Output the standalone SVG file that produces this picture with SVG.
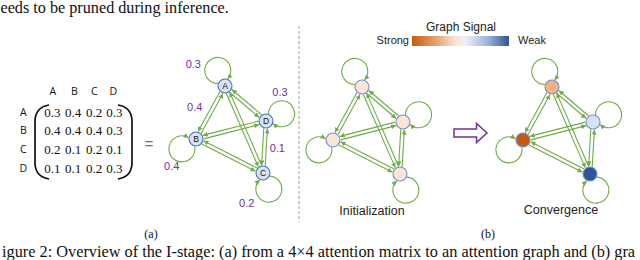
<svg xmlns="http://www.w3.org/2000/svg" xmlns:xlink="http://www.w3.org/1999/xlink" width="640" height="260" viewBox="0 0 640 260">
<style>
.serif{font-family:"Liberation Serif","Times New Roman",serif;fill:#111}
.sans{font-family:"Liberation Sans",Arial,sans-serif;fill:#222}
.os{font-family:"Open Sans","Liberation Sans",sans-serif;fill:#111}
.val{font-family:"Liberation Sans",Arial,sans-serif;fill:#7030a0;font-size:11px;text-anchor:middle}
.e{fill:none;stroke:#70ad47;stroke-width:1.1;marker-end:url(#ah)}
.na{fill:#dae3f3;stroke:#4472c4;stroke-width:1.1}
.nb{stroke:#6f8fce;stroke-width:1.1}
.nl{font-family:"Liberation Sans",Arial,sans-serif;font-size:8.5px;fill:#111;text-anchor:middle}
.br{fill:none;stroke:#111;stroke-width:1.7}
</style>
<defs>
<marker id="ah" viewBox="0 0 6 6" refX="6" refY="3" markerWidth="5" markerHeight="5" orient="auto" markerUnits="userSpaceOnUse">
<path d="M0,0 L6,3 L0,6 z" fill="#70ad47"/>
</marker>
<linearGradient id="sig" x1="0" y1="0" x2="1" y2="0">
<stop offset="0" stop-color="#c55a11"/>
<stop offset="0.22" stop-color="#e49a66"/>
<stop offset="0.45" stop-color="#f8e4d6"/>
<stop offset="0.55" stop-color="#eef0f7"/>
<stop offset="0.78" stop-color="#9fb2da"/>
<stop offset="1" stop-color="#2f5597"/>
</linearGradient>
</defs>
<rect width="640" height="260" fill="#fff"/>

<text class="serif" x="0.5" y="13" font-size="16.2">eeds to be pruned during inference.</text>

<g id="matrix">
<g class="os" font-size="10.5" text-anchor="middle">
<text x="52.7" y="94.5">A</text><text x="74.5" y="94.5">B</text><text x="94.3" y="94.5">C</text><text x="113.3" y="94.5">D</text>
<text x="23.3" y="115.5">A</text><text x="23.3" y="134">B</text><text x="23.3" y="153">C</text><text x="23.3" y="171.5">D</text>
</g>
<path class="br" d="M49,105 Q36,107 35,120 L35,164 Q36,177 49,179"/>
<path class="br" d="M118,105 Q131,107 132,120 L132,164 Q131,177 118,179"/>
<g class="serif" font-size="13" text-anchor="middle">
<text y="116.5"><tspan x="52.3">0.3</tspan><tspan x="73">0.4</tspan><tspan x="94">0.2</tspan><tspan x="114.3">0.3</tspan></text>
<text y="135.2"><tspan x="52.3">0.4</tspan><tspan x="73">0.4</tspan><tspan x="94">0.4</tspan><tspan x="114.3">0.3</tspan></text>
<text y="153.9"><tspan x="52.3">0.2</tspan><tspan x="73">0.1</tspan><tspan x="94">0.2</tspan><tspan x="114.3">0.1</tspan></text>
<text y="172.6"><tspan x="52.3">0.1</tspan><tspan x="73">0.1</tspan><tspan x="94">0.2</tspan><tspan x="114.3">0.3</tspan></text>
</g>
</g>

<text x="149" y="149" font-family="Liberation Sans,Arial,sans-serif" font-size="15" fill="#4472c4" text-anchor="middle">=</text>

<g id="connectors">
<g id="edges-a">
<path class="e" d="M219.82,91.72 L198.02,131.56"/>
<path class="e" d="M201.18,133.29 L222.98,93.44"/>
<path class="e" d="M229.54,92.24 L259.13,117.50"/>
<path class="e" d="M261.47,114.76 L231.87,89.50"/>
<path class="e" d="M226.35,93.59 L258.35,166.85"/>
<path class="e" d="M261.65,165.41 L229.65,92.15"/>
<path class="e" d="M203.71,138.88 L259.18,124.61"/>
<path class="e" d="M258.29,121.13 L202.82,135.39"/>
<path class="e" d="M201.87,144.00 L255.50,171.21"/>
<path class="e" d="M257.13,168.00 L203.50,140.79"/>
<path class="e" d="M263.77,128.38 L261.64,165.41"/>
<path class="e" d="M265.23,165.62 L267.37,128.59"/>
<path class="e" d="M217.95,83.43 A13,13 0 1 1 227.57,78.95"/>
<path class="e" d="M268.57,113.95 A13,13 0 1 1 273.05,123.57"/>
<path class="e" d="M194.70,146.39 A13,13 0 1 1 188.61,137.70"/>
<path class="e" d="M269.80,176.17 A13,13 0 1 1 259.83,179.80"/>
</g>
<g id="edges-init" transform="translate(137,1)">
<path class="e" d="M219.82,91.72 L198.02,131.56"/>
<path class="e" d="M201.18,133.29 L222.98,93.44"/>
<path class="e" d="M229.54,92.24 L259.13,117.50"/>
<path class="e" d="M261.47,114.76 L231.87,89.50"/>
<path class="e" d="M226.35,93.59 L258.35,166.85"/>
<path class="e" d="M261.65,165.41 L229.65,92.15"/>
<path class="e" d="M203.71,138.88 L259.18,124.61"/>
<path class="e" d="M258.29,121.13 L202.82,135.39"/>
<path class="e" d="M201.87,144.00 L255.50,171.21"/>
<path class="e" d="M257.13,168.00 L203.50,140.79"/>
<path class="e" d="M263.77,128.38 L261.64,165.41"/>
<path class="e" d="M265.23,165.62 L267.37,128.59"/>
<path class="e" d="M217.95,83.43 A13,13 0 1 1 227.57,78.95"/>
<path class="e" d="M268.57,113.95 A13,13 0 1 1 273.05,123.57"/>
<path class="e" d="M194.70,146.39 A13,13 0 1 1 188.61,137.70"/>
<path class="e" d="M269.80,176.17 A13,13 0 1 1 259.83,179.80"/>
</g>
<g id="edges-conv" transform="translate(327,1)">
<path class="e" d="M219.82,91.72 L198.02,131.56"/>
<path class="e" d="M201.18,133.29 L222.98,93.44"/>
<path class="e" d="M229.54,92.24 L259.13,117.50"/>
<path class="e" d="M261.47,114.76 L231.87,89.50"/>
<path class="e" d="M226.35,93.59 L258.35,166.85"/>
<path class="e" d="M261.65,165.41 L229.65,92.15"/>
<path class="e" d="M203.71,138.88 L259.18,124.61"/>
<path class="e" d="M258.29,121.13 L202.82,135.39"/>
<path class="e" d="M201.87,144.00 L255.50,171.21"/>
<path class="e" d="M257.13,168.00 L203.50,140.79"/>
<path class="e" d="M263.77,128.38 L261.64,165.41"/>
<path class="e" d="M265.23,165.62 L267.37,128.59"/>
<path class="e" d="M217.95,83.43 A13,13 0 1 1 227.57,78.95"/>
<path class="e" d="M268.57,113.95 A13,13 0 1 1 273.05,123.57"/>
<path class="e" d="M194.70,146.39 A13,13 0 1 1 188.61,137.70"/>
<path class="e" d="M269.80,176.17 A13,13 0 1 1 259.83,179.80"/>
</g>
</g>

<g id="node-A"><circle class="na" cx="225" cy="86" r="7"/><text class="nl" x="225" y="89">A</text></g>
<g id="node-B"><circle class="na" cx="196" cy="139" r="7"/><text class="nl" x="196" y="142">B</text></g>
<g id="node-C"><circle class="na" cx="263" cy="173" r="7"/><text class="nl" x="263" y="176">C</text></g>
<g id="node-D"><circle class="na" cx="266" cy="121" r="7"/><text class="nl" x="266" y="124">D</text></g>

<g id="weights">
<text class="val" x="193.3" y="67.5">0.3</text>
<text class="val" x="194.7" y="110.8">0.4</text>
<text class="val" x="280" y="96">0.3</text>
<text class="val" x="277.3" y="151.8">0.1</text>
<text class="val" x="171.7" y="170.3">0.4</text>
<text class="val" x="246.7" y="207">0.2</text>
</g>

<g id="init-nodes" transform="translate(137,1)">
<g id="init-A"><circle class="nb" cx="225" cy="86" r="7" fill="#fce4d6"/></g>
<g id="init-B"><circle class="nb" cx="196" cy="139" r="7" fill="#fce4d6"/></g>
<g id="init-C"><circle class="nb" cx="263" cy="173" r="7" fill="#fce4d6"/></g>
<g id="init-D"><circle class="nb" cx="266" cy="121" r="7" fill="#fce4d6"/></g>
</g>
<g id="conv-nodes" transform="translate(327,1)">
<g id="conv-A"><circle class="nb" cx="225" cy="86" r="7" fill="#f4b183"/></g>
<g id="conv-B"><circle class="nb" cx="196" cy="139" r="7" fill="#c55a11"/></g>
<g id="conv-C"><circle class="nb" cx="263" cy="173" r="7" fill="#2f5597"/></g>
<g id="conv-D"><circle class="nb" cx="266" cy="121" r="7" fill="#dae3f3"/></g>
</g>

<line x1="299" y1="26" x2="299" y2="222" stroke="#b0b0b0" stroke-width="1.2" stroke-dasharray="3,2"/>

<g id="legend">
<text class="sans" x="461" y="31" font-size="12" text-anchor="middle">Graph Signal</text>
<text class="sans" x="409" y="43.5" font-size="11" text-anchor="end">Strong</text>
<rect x="412" y="36" width="97" height="10" fill="url(#sig)"/>
<text class="sans" x="518" y="43.5" font-size="11">Weak</text>
</g>

<g id="arrow">
<polygon points="454,129 476.5,129 476.5,123.5 487,133 476.5,142.5 476.5,137 454,137" fill="#fff" stroke="#7030a0" stroke-width="1.5" stroke-linejoin="miter"/>
</g>

<text class="sans" x="372" y="215" font-size="12.5" text-anchor="middle">Initialization</text>
<text class="sans" x="561" y="213.5" font-size="12.5" text-anchor="middle">Convergence</text>

<text class="serif" x="151" y="238" font-size="12" text-anchor="middle">(a)</text>
<text class="serif" x="488" y="238" font-size="12" text-anchor="middle">(b)</text>

<text class="serif" x="2" y="257" font-size="16.3">igure 2: Overview of the I-stage: (a) from a 4×4 attention matrix to an attention graph and (b) gra</text>
</svg>
